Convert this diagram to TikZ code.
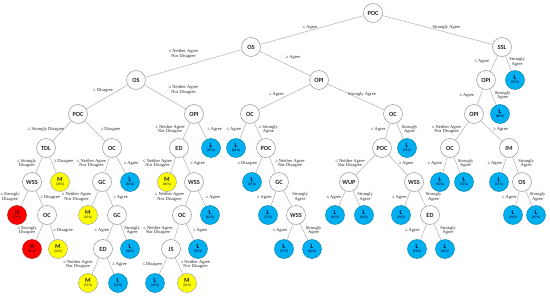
\documentclass[tikz,border=0pt]{standalone}
\usepackage{fontspec}
\setmainfont{Liberation Serif}
\newfontfamily\nf{Carlito}
\definecolor{lblue}{RGB}{0,176,240}
\definecolor{myel}{RGB}{255,255,0}
\definecolor{mred}{RGB}{255,0,0}
\definecolor{egray}{RGB}{175,175,175}
\definecolor{cgray}{RGB}{150,150,150}
\newcommand\lv[2]{#1\\[-2.4pt]{\fontsize{3.6}{4}\selectfont\mdseries(#2\%)}}
\tikzset{
 inn/.style={circle, draw=cgray, line width=0.5pt, fill=white, minimum size=19pt, inner sep=0pt, font=\nf\bfseries\fontsize{6.3}{7}\selectfont, text=black!85},
 leaf/.style={circle, line width=0.45pt, minimum size=19pt, inner sep=0pt, align=center, font=\nf\bfseries\fontsize{6.3}{6.5}\selectfont},
 lL/.style={leaf, fill=lblue, draw=lblue!70!black, text=black!80!blue},
 lM/.style={leaf, fill=myel, draw=cgray, text=black!85},
 lH/.style={leaf, fill=mred, draw=mred!70!black, text=black!80!red},
 con/.style={draw=egray, line width=0.5pt},
 lbl/.style={font=\fontsize{4.5}{4.8}\selectfont, align=center, inner sep=0.6pt, text=black!85},
 lft/.style={lbl, left=#1, yshift=1.5pt}, lft/.default=1pt,
 rgt/.style={lbl, right=#1, yshift=1.5pt}, rgt/.default=1pt,
}
\begin{document}
\begin{tikzpicture}[x=1pt,y=-1pt]
\useasboundingbox (0,0) rectangle (550,297);
% level 0-3
\node[inn] (root) at (373,13) {POC};
\node[inn] (os1) at (251,47) {OS};
\node[inn] (ssl) at (502,47) {SSL};
\node[inn] (os2) at (136,80) {OS};
\node[inn] (opi1) at (319,80) {OPI};
\node[inn] (opi2) at (486,80) {OPI};
\node[lL] (l59a) at (515,80) {\lv{L}{59}};
\node[inn] (poc2) at (78,114) {POC};
\node[inn] (opi3) at (194,114) {OPI};
\node[inn] (oc1) at (250,114) {OC};
\node[inn] (oc2) at (393,114) {OC};
\node[inn] (opi4) at (474,114) {OPI};
\node[lL] (l80) at (500,114) {\lv{L}{80}};
% level 4
\node[inn] (tdl) at (46,148) {TDL};
\node[inn] (oc3) at (112,148) {OC};
\node[inn] (ed1) at (179,148) {ED};
\node[lL] (l87) at (211,148) {\lv{L}{87}};
\node[lL] (l81) at (236,148) {\lv{L}{81}};
\node[inn] (poc3) at (266,148) {POC};
\node[inn] (poc4) at (382,148) {POC};
\node[lL] (l78) at (407,148) {\lv{L}{78}};
\node[inn] (oc4) at (450,148) {OC};
\node[inn] (im) at (509,148) {IM};
% level 5
\node[inn] (wss1) at (32,182) {WSS};
\node[lM] (m38) at (60,182) {\lv{M}{38}};
\node[inn] (gc1) at (102,182) {GC};
\node[lL] (l60a) at (130,182) {\lv{L}{60}};
\node[lM] (m60) at (167,182) {\lv{M}{60}};
\node[inn] (wss2) at (194,182) {WSS};
\node[lL] (l47) at (252,182) {\lv{L}{47}};
\node[inn] (gc2) at (279,182) {GC};
\node[inn] (wup) at (349,182) {WUP};
\node[inn] (wss3) at (414,182) {WSS};
\node[lL] (l50a) at (440,182) {\lv{L}{50}};
\node[lL] (l72) at (464,182) {\lv{L}{72}};
\node[lL] (l57a) at (499,182) {\lv{L}{57}};
\node[inn] (os3) at (522,182) {OS};
% level 6
\node[lH] (h78) at (17,215) {\lv{H}{78}};
\node[inn] (oc5) at (47,215) {OC};
\node[lM] (m63) at (88,215) {\lv{M}{63}};
\node[inn] (gc3) at (117,215) {GC};
\node[inn] (oc6) at (182,215) {OC};
\node[lL] (l62a) at (210,215) {\lv{L}{62}};
\node[lL] (l73) at (268,215) {\lv{L}{73}};
\node[inn] (wss4) at (296,215) {WSS};
\node[lL] (l63) at (335,215) {\lv{L}{63}};
\node[lL] (l50b) at (364,215) {\lv{L}{50}};
\node[lL] (l54a) at (401,215) {\lv{L}{54}};
\node[inn] (ed2) at (430,215) {ED};
\node[lL] (l56) at (513,215) {\lv{L}{56}};
\node[lL] (l67) at (536,215) {\lv{L}{67}};
% level 7
\node[lH] (h86) at (32,249) {\lv{H}{86}};
\node[lM] (m34) at (58,249) {\lv{M}{34}};
\node[inn] (ed3) at (103,249) {ED};
\node[lL] (l48) at (130,249) {\lv{L}{48}};
\node[inn] (js) at (171,249) {JS};
\node[lL] (l59b) at (198,249) {\lv{L}{59}};
\node[lL] (l57b) at (284,249) {\lv{L}{57}};
\node[lL] (l60b) at (312,249) {\lv{L}{60}};
\node[lL] (l54b) at (417,249) {\lv{L}{54}};
\node[lL] (l62b) at (445,249) {\lv{L}{62}};
% level 8
\node[lM] (m47) at (88,283) {\lv{M}{47}};
\node[lL] (l52) at (118,283) {\lv{L}{52}};
\node[lL] (l49) at (155,283) {\lv{L}{49}};
\node[lM] (m56) at (187,283) {\lv{M}{56}};
% connectors
\draw[con] (root) -- node[lbl, above, xshift=-2pt] {≤ Agree} (os1);
\draw[con] (root) -- node[lbl, above, xshift=9pt] {Strongly Agree} (ssl);
\draw[con] (os1) -- node[lbl, above, xshift=-10pt, yshift=4pt] {≤ Neither Agree\\Nor Disagree} (os2);
\draw[con] (os1) -- node[lbl, above right, yshift=3pt] {≥ Agree} (opi1);
\draw[con] (ssl) -- node[lft=4pt] {≤ Agree} (opi2);
\draw[con] (ssl) -- node[rgt=0pt] {Strongly\\Agree} (l59a);
\draw[con] (os2) -- node[lbl, above, xshift=-4pt, yshift=4pt] {≤ Disagree} (poc2);
\draw[con] (os2) -- node[lbl, above right, xshift=3pt, yshift=2pt] {≥ Neither Agree\\Nor Disagree} (opi3);
\draw[con] (opi1) -- node[lbl, above left] {≤ Agree} (oc1);
\draw[con] (opi1) -- node[lbl, above, xshift=6pt] {Strongly Agree} (oc2);
\draw[con] (opi2) -- node[lft=5pt] {≤ Agree} (opi4);
\draw[con] (opi2) -- node[rgt=1pt] {Strongly\\Agree} (l80);
\draw[con] (poc2) -- node[lbl, anchor=east, xshift=3pt, yshift=2pt] {≤ Strongly Disagree} (tdl);
\draw[con] (poc2) -- node[rgt=5pt] {≥ Disagree} (oc3);
\draw[con] (opi3) -- node[lft=1pt] {≤ Neither Agree\\Nor Disagree} (ed1);
\draw[con] (opi3) -- node[rgt=4pt] {≥ Agree} (l87);
\draw[con] (oc1) -- node[lft=1pt] {≤ Agree} (l81);
\draw[con] (oc1) -- node[rgt=0pt] {≥ Strongly\\Agree} (poc3);
\draw[con] (oc2) -- node[lft=1pt] {≤ Agree} (poc4);
\draw[con] (oc2) -- node[rgt=1pt] {Strongly\\Agree} (l78);
\draw[con] (opi4) -- node[lft=0pt] {≤ Neither Agree\\Nor Disagree} (oc4);
\draw[con] (opi4) -- node[rgt=1pt] {≥ Agree} (im);
\draw[con] (tdl) -- node[lft=2pt] {≤ Strongly\\Disagree} (wss1);
\draw[con] (tdl) -- node[rgt=0pt, yshift=2pt] {≥ Disagree} (m38);
\draw[con] (oc3) -- node[lft=0pt] {≤ Neither Agree\\Nor Disagree} (gc1);
\draw[con] (oc3) -- node[rgt=2pt] {≥ Agree} (l60a);
\draw[con] (ed1) -- node[lft=0pt] {≤ Neither Agree\\Nor Disagree} (m60);
\draw[con] (ed1) -- node[rgt=3pt] {≥ Agree} (wss2);
\draw[con] (poc3) -- node[lft=1pt] {≤ Disagree} (l47);
\draw[con] (poc3) -- node[rgt=2pt] {≥ Neither Agree\\Nor Disagree} (gc2);
\draw[con] (poc4) -- node[lft=0pt] {≤ Neither Agree\\Nor Disagree} (wup);
\draw[con] (poc4) -- node[rgt=0pt] {≥ Agree} (wss3);
\draw[con] (oc4) -- node[lft=2pt] {≤ Agree} (l50a);
\draw[con] (oc4) -- node[rgt=0pt] {Strongly\\Agree} (l72);
\draw[con] (im) -- node[lft=1pt] {≤ Agree} (l57a);
\draw[con] (im) -- node[rgt=2pt] {Strongly\\Agree} (os3);
\draw[con] (wss1) -- node[lft=4pt] {≤ Strongly\\Disagree} (h78);
\draw[con] (wss1) -- node[rgt=0pt] {≥ Disagree} (oc5);
\draw[con] (gc1) -- node[lft=3pt] {≤ Neither Agree\\Nor Disagree} (m63);
\draw[con] (gc1) -- node[rgt=3pt] {≥ Agree} (gc3);
\draw[con] (wss2) -- node[lft=3pt] {≤ Neither Agree\\Nor Disagree} (oc6);
\draw[con] (wss2) -- node[rgt=3pt] {≥ Agree} (l62a);
\draw[con] (gc2) -- node[lft=1pt] {≤ Agree} (l73);
\draw[con] (gc2) -- node[rgt=4pt] {Strongly\\Agree} (wss4);
\draw[con] (wup) -- node[lft=0pt] {≤ Agree} (l63);
\draw[con] (wup) -- node[rgt=0pt] {Strongly\\Agree} (l50b);
\draw[con] (wss3) -- node[lft=0pt] {≤ Agree} (l54a);
\draw[con] (wss3) -- node[rgt=3pt] {Strongly\\Agree} (ed2);
\draw[con] (os3) -- node[lft=0pt] {≤ Agree} (l56);
\draw[con] (os3) -- node[rgt=0pt] {Strongly\\Agree} (l67);
\draw[con] (oc5) -- node[lft=2pt] {≤ Strongly\\Disagree} (h86);
\draw[con] (oc5) -- node[rgt=0pt] {≥ Disagree} (m34);
\draw[con] (gc3) -- node[lft=0pt] {≤ Agree} (ed3);
\draw[con] (gc3) -- node[rgt=0pt] {Strongly\\Agree} (l48);
\draw[con] (oc6) -- node[lft=3pt] {≤ Neither Agree\\Nor Disagree} (js);
\draw[con] (oc6) -- node[rgt=2pt] {≥ Agree} (l59b);
\draw[con] (wss4) -- node[lft=2pt] {≤ Agree} (l57b);
\draw[con] (wss4) -- node[rgt=1pt] {Strongly\\Agree} (l60b);
\draw[con] (ed2) -- node[lft=3pt] {≤ Agree} (l54b);
\draw[con] (ed2) -- node[rgt=2pt] {Strongly\\Agree} (l62b);
\draw[con] (ed3) -- node[lft=2pt] {≤ Neither Agree\\Nor Disagree} (m47);
\draw[con] (ed3) -- node[rgt=1pt] {≥ Agree} (l52);
\draw[con] (js) -- node[lft=0pt] {≤ Disagree} (l49);
\draw[con] (js) -- node[rgt=1pt] {≥ Neither Agree\\Nor Disagree} (m56);
\end{tikzpicture}
\end{document}
